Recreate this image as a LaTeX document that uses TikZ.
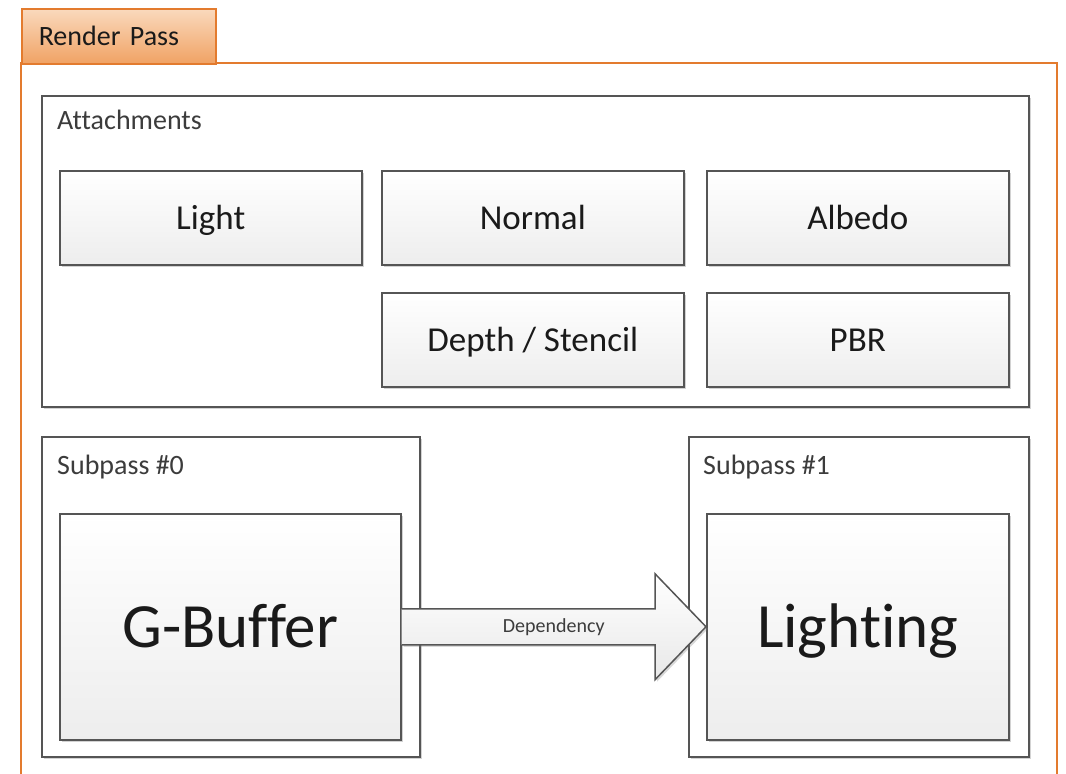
\documentclass[tikz,border=0pt]{standalone}
\usepackage{fontspec}
\setmainfont{Carlito}[Ligatures=CommonOff]
\usetikzlibrary{shadows,calc}

\definecolor{passline}{HTML}{E37B2E}
\definecolor{tabtop}{HTML}{FAD9BD}
\definecolor{tabbot}{HTML}{F0A264}
\definecolor{boxline}{HTML}{555555}
\definecolor{inktext}{HTML}{1A1A1A}

\tikzset{
  panel/.style={draw=boxline, line width=1.5pt, fill=white, anchor=north west,
    drop shadow={shadow xshift=2pt, shadow yshift=-2pt, opacity=.35}},
  cell/.style={panel, top color=white, bottom color=black!7, text=inktext,
    text height=22.5pt, text depth=0pt, font=\fontsize{35}{38}\selectfont},
  bigcell/.style={cell, text height=40.5pt, font=\fontsize{63}{66}\selectfont},
  caption/.style={anchor=base west, inner sep=0pt, text=inktext!85,
    font=\fontsize{28}{32}\selectfont},
  deparrow/.style={draw=boxline, line width=1.5pt, top color=white, bottom color=black!9,
    drop shadow={shadow xshift=2pt, shadow yshift=-2pt, opacity=.3}},
}

\begin{document}
\begin{tikzpicture}[x=1pt,y=-1pt]
    \useasboundingbox (0,0) rectangle (1066,774);
    \clip (0,0) rectangle (1066,774);

    % render pass frame and its tab
    \draw[passline, line width=1.5pt] (21,800) |- (1057,63) -- (1057,800);
    \node[draw=passline, line width=1.5pt, top color=tabtop, bottom color=tabbot,
      anchor=north west, minimum width=194, minimum height=55, inner xsep=17,
      text width=160, align=left, text=inktext, font=\fontsize{28}{32}\selectfont]
      (tab) at (21,8) {Render Pass};

    % attachments
    \node[panel, minimum width=987, minimum height=311] (attach) at (41,95) {};
    \node[caption] (attachcap) at (57,129) {Attachments};
    \foreach \name/\x/\y/\txt in {light/59/170/Light, normal/381/170/Normal,
        albedo/706/170/Albedo, depth/381/292/{Depth / Stencil}, pbr/706/292/PBR} {
      \node[cell, minimum width=302, minimum height=94] (\name) at (\x,\y) {\txt};
    }

    % subpasses
    \node[panel, minimum width=378, minimum height=320] (sub0) at (41,436) {};
    \node[caption] (sub0cap) at (57,474) {Subpass \#0};
    \node[panel, minimum width=340, minimum height=320] (sub1) at (688,436) {};
    \node[caption] (sub1cap) at (703,474) {Subpass \#1};

    \node[bigcell, minimum width=341, minimum height=226] (gbuf) at (59,513) {G-Buffer};
    \node[bigcell, minimum width=302, minimum height=226] (lighting) at (706,513) {Lighting};

    % dependency arrow
    \draw[deparrow] ([yshift=18]gbuf.east) -- ([xshift=-51,yshift=18]lighting.west)
      -- ([xshift=-51,yshift=53]lighting.west) -- (lighting.west)
      -- ([xshift=-51,yshift=-53]lighting.west) -- ([xshift=-51,yshift=-18]lighting.west)
      -- ([yshift=-18]gbuf.east);
    \node[text=inktext!85, font=\fontsize{20}{22}\selectfont] (dep)
      at ($(gbuf.east)!.5!(lighting.west)$) {Dependency};
\end{tikzpicture}
\end{document}
